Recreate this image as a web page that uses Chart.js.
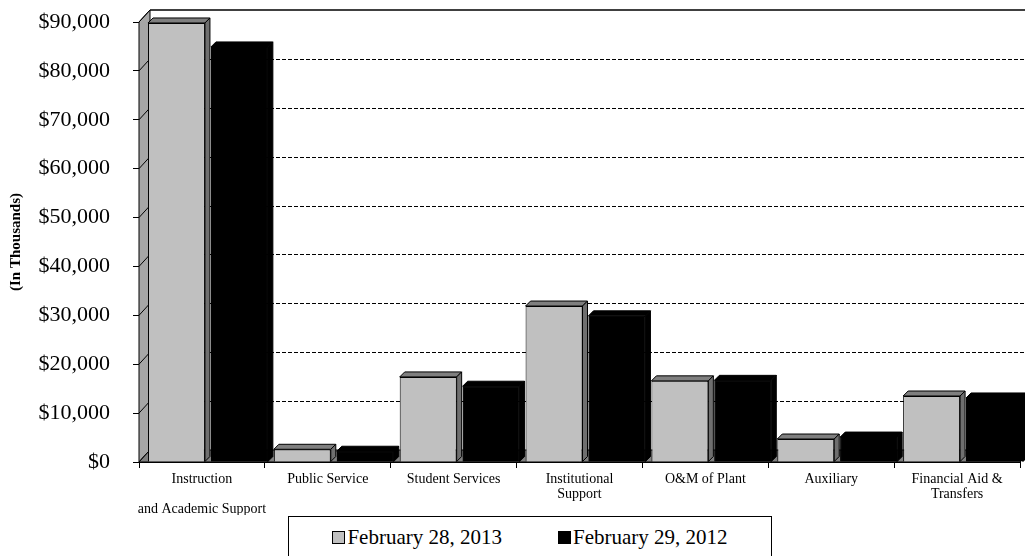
<!DOCTYPE html>
<html>
<head>
<meta charset="utf-8">
<script src="https://cdn.jsdelivr.net/npm/chart.js@4/dist/chart.umd.min.js"></script>
<style>
  html, body { margin: 0; padding: 0; background: #fff; overflow: hidden; }
  #wrap { position: relative; width: 1025px; height: 556px; }
  #legend {
    position: absolute; left: 288px; top: 516px; width: 484px; height: 50px;
    box-sizing: border-box; border: 1px solid #000; background: #fff;
    display: flex; justify-content: center; align-items: flex-start; gap: 56px; padding-top: 10px;
    font: 21px 'Liberation Serif', serif; line-height: 21px; color: #000;
  }
  #legend .item { display: flex; align-items: center; height: 21px; }
  #legend .box { width: 11px; height: 11px; border: 1px solid #000; margin-right: 2px; }
</style>
</head>
<body>
<div id="wrap">
  <canvas id="chart" width="1025" height="556"></canvas>
  <div id="legend"></div>
</div>
<script>
// values in thousands of dollars
const categories = [
  ['Instruction', '', 'and Academic Support'],
  'Public Service',
  'Student Services',
  ['Institutional', 'Support'],
  'O&M of Plant',
  'Auxiliary',
  ['Financial Aid &', 'Transfers']
];
const feb2013 = [89800, 2600, 17400, 31900, 16600, 4700, 13500];
const feb2012 = [84900, 2200, 15500, 29900, 16700, 5100, 13100];
const yTicks = [0, 10000, 20000, 30000, 40000, 50000, 60000, 70000, 80000, 90000];

const SERIF = "'Liberation Serif', 'Times New Roman', serif";
const WALL_DX = 11, WALL_DY = -12; // depth of back wall / floor
const BAR_DX = 5, BAR_DY = -5;     // depth of each bar
const BAR_SHIFT = 6;               // bars stand a little back from the front edge

function poly(ctx, pts, fill) {
  ctx.beginPath();
  ctx.moveTo(pts[0][0], pts[0][1]);
  for (let i = 1; i < pts.length; i++) ctx.lineTo(pts[i][0], pts[i][1]);
  ctx.closePath();
  ctx.fillStyle = fill;
  ctx.fill();
  ctx.stroke();
}

function barFaces(ctx, el, top, side) {
  const p = el.getProps(['x', 'y', 'base', 'width'], true);
  const l = p.x - p.width / 2, r = p.x + p.width / 2;
  poly(ctx, [[l, p.y], [l + BAR_DX, p.y + BAR_DY], [r + BAR_DX, p.y + BAR_DY], [r, p.y]], top);
  poly(ctx, [[r, p.y], [r + BAR_DX, p.y + BAR_DY], [r + BAR_DX, p.base + BAR_DY], [r, p.base]], side);
}

// fake 3D: walls, floor, back gridlines and bar depth
const depth = {
  id: 'depth',
  afterDatasetsUpdate(chart) {
    chart.data.datasets.forEach((ds, i) => {
      chart.getDatasetMeta(i).data.forEach(el => { el.x += BAR_SHIFT; });
    });
  },
  beforeDatasetsDraw(chart) {
    const { ctx, chartArea: a, scales: { y } } = chart;
    ctx.save();
    ctx.strokeStyle = '#000';
    ctx.lineWidth = 1;
    ctx.setLineDash([4, 2]);
    yTicks.forEach(v => {
      if (v <= 0 || v >= yTicks[yTicks.length - 1]) return;
      const py = Math.round(y.getPixelForValue(v) + WALL_DY) + 0.5;
      ctx.beginPath();
      ctx.moveTo(a.left + WALL_DX, py);
      ctx.lineTo(chart.width, py);
      ctx.stroke();
    });
    ctx.setLineDash([]);
    // back wall top edge
    ctx.lineWidth = 1.5;
    ctx.beginPath();
    ctx.moveTo(a.left + WALL_DX, a.top + WALL_DY);
    ctx.lineTo(chart.width, a.top + WALL_DY);
    ctx.stroke();
    ctx.lineWidth = 1;
    // left wall
    poly(ctx, [[a.left, a.bottom], [a.left, a.top], [a.left + WALL_DX, a.top + WALL_DY], [a.left + WALL_DX, a.bottom + WALL_DY]], '#a6a6a6');
    yTicks.forEach(v => {
      const py = y.getPixelForValue(v);
      ctx.beginPath();
      ctx.moveTo(a.left, py);
      ctx.lineTo(a.left + WALL_DX, py + WALL_DY);
      ctx.stroke();
    });
    // floor
    poly(ctx, [[a.left, a.bottom], [a.right, a.bottom], [a.right + WALL_DX, a.bottom + WALL_DY], [a.left + WALL_DX, a.bottom + WALL_DY]], '#808080');
    ctx.restore();
  },
  afterDatasetsDraw(chart) {
    const ctx = chart.ctx;
    const gray = chart.getDatasetMeta(0), black = chart.getDatasetMeta(1);
    ctx.save();
    ctx.strokeStyle = '#000';
    ctx.lineWidth = 1;
    gray.data.forEach(el => barFaces(ctx, el, '#7f7f7f', '#6f6f6f'));
    // black bars sit in front of the grey side faces
    black.data.forEach(el => el.draw(ctx));
    ctx.strokeStyle = '#000';
    ctx.lineWidth = 1;
    black.data.forEach(el => barFaces(ctx, el, '#000', '#000'));
    ctx.restore();
  }
};

const chart = new Chart(document.getElementById('chart'), {
  type: 'bar',
  data: {
    labels: categories,
    datasets: [
      { label: 'February 28, 2013', data: feb2013, backgroundColor: '#c0c0c0', borderColor: '#000', borderWidth: 1 },
      { label: 'February 29, 2012', data: feb2012, backgroundColor: '#000', borderColor: '#000', borderWidth: 1 }
    ]
  },
  options: {
    responsive: false,
    animation: false,
    layout: { padding: { top: 22, right: 5, bottom: 41, left: 0 } },
    datasets: { bar: { categoryPercentage: 1, barPercentage: 0.905 } },
    plugins: {
      legend: { display: false },
      tooltip: { enabled: false }
    },
    scales: {
      x: {
        afterFit: s => { s.height = 53; s.paddingTop = 0; s.paddingBottom = 0; },
        grid: { drawOnChartArea: false, tickLength: 6, color: '#000' },
        border: { color: '#000' },
        ticks: {
          autoSkip: false, maxRotation: 0, padding: 4, color: '#000',
          font: { family: SERIF, size: 14, lineHeight: 15 / 14 }
        }
      },
      y: {
        min: 0,
        max: 90000,
        afterFit: s => { s.width = 139; s.paddingTop = 0; s.paddingBottom = 0; },
        afterBuildTicks: s => { s.ticks = yTicks.map(v => ({ value: v })); },
        grid: { drawOnChartArea: false, tickLength: 6, color: '#000' },
        border: { color: '#000' },
        ticks: {
          padding: 23, color: '#000',
          font: { family: SERIF, size: 22 },
          callback: v => '$' + v.toLocaleString('en-US')
        },
        title: {
          display: true, text: '(In Thousands)', color: '#000',
          font: { family: SERIF, size: 15, weight: 'bold' },
          padding: { top: 7, bottom: 0 }
        }
      }
    }
  },
  plugins: [depth]
});

// html legend built from the datasets
const legendEl = document.getElementById('legend');
chart.data.datasets.forEach(ds => {
  const item = document.createElement('div');
  item.className = 'item';
  const box = document.createElement('span');
  box.className = 'box';
  box.style.background = ds.backgroundColor;
  const txt = document.createElement('span');
  txt.textContent = ds.label;
  item.appendChild(box);
  item.appendChild(txt);
  legendEl.appendChild(item);
});
</script>
</body>
</html>
